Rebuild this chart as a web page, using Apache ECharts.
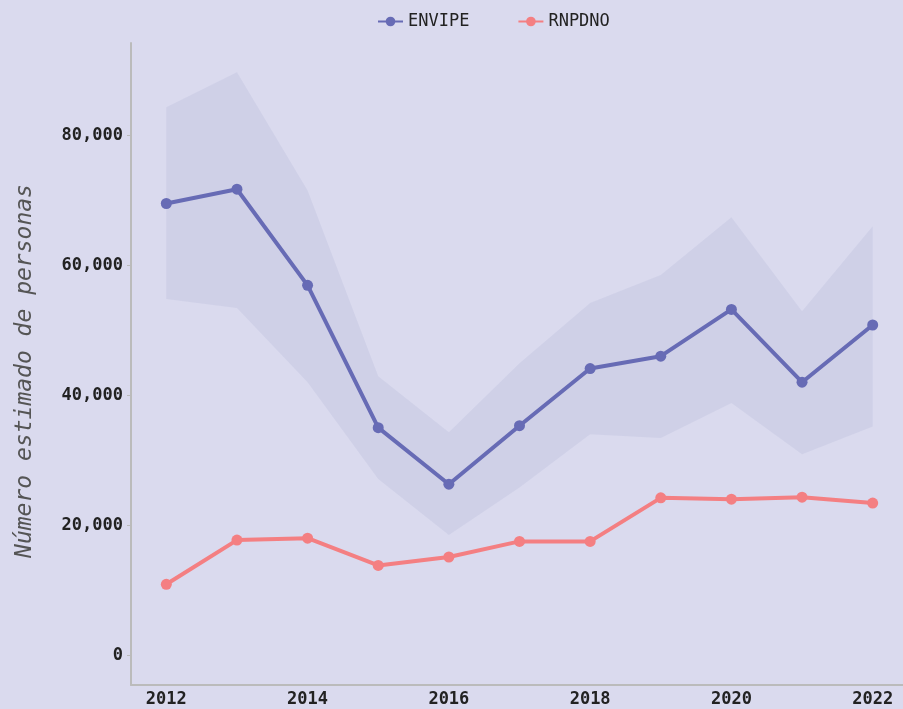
<!DOCTYPE html>
<html>
<head>
<meta charset="utf-8">
<script src="https://cdn.jsdelivr.net/npm/echarts@6/dist/echarts.min.js"></script>
<style>
  html, body { margin: 0; padding: 0; background: #dadaee; overflow: hidden; }
  #chart { width: 908px; height: 709px; }
</style>
</head>
<body>
<div id="chart"></div>
<script>
const years = ['2012', '2013', '2014', '2015', '2016', '2017', '2018', '2019', '2020', '2021', '2022']
const envipe = [69500, 71700, 56900, 35000, 26300, 35300, 44100, 46000, 53200, 42000, 50800]
const envipeUpper = [84300, 89700, 71500, 42900, 34300, 44900, 54200, 58500, 67400, 52900, 66000]
const envipeLower = [54800, 53400, 42000, 27100, 18500, 25800, 34000, 33400, 38800, 30900, 35200]
const rnpdno = [10900, 17700, 18000, 13800, 15100, 17500, 17500, 24200, 24000, 24300, 23400]
const yTicks = [0, 20000, 40000, 60000, 80000]

const mono = 'DejaVu Sans Mono'
const chart = echarts.init(document.getElementById('chart'))

// band = lower + (upper - lower), stacked
const bandWidth = envipeUpper.map((v, i) => v - envipeLower[i])

chart.setOption({
  backgroundColor: '#dadaee',
  animation: false,
  legend: {
    top: 8,
    left: 372,
    itemWidth: 25,
    itemHeight: 12,
    itemGap: 48,
    data: ['ENVIPE', 'RNPDNO'],
    textStyle: { fontFamily: mono, fontSize: 17, color: '#222' }
  },
  grid: { left: 131, right: 0, top: 43, bottom: 24 },
  xAxis: {
    type: 'category',
    data: years,
    boundaryGap: true,
    axisLine: { onZero: false, lineStyle: { color: '#bbbbbb', width: 2 } },
    axisTick: { alignWithLabel: true, interval: 1, length: 4, lineStyle: { color: '#bbbbbb' } },
    axisLabel: { interval: 1, margin: 6, fontFamily: mono, fontWeight: 'bold', fontSize: 17, color: '#222' },
    splitLine: { show: false }
  },
  yAxis: {
    type: 'value',
    min: -4600,
    max: 94200,
    name: 'Número estimado de personas',
    nameLocation: 'middle',
    nameGap: 94,
    nameTextStyle: { fontFamily: mono, fontStyle: 'italic', fontSize: 23, color: '#555', padding: [0, 14, 0, 0] },
    axisLine: { show: true, lineStyle: { color: '#bbbbbb', width: 2 } },
    axisTick: { show: true, customValues: yTicks, length: 4, lineStyle: { color: '#bbbbbb' } },
    axisLabel: {
      customValues: yTicks,
      margin: 8,
      fontFamily: mono,
      fontWeight: 'bold',
      fontSize: 17,
      color: '#222',
      formatter: v => v.toLocaleString('en-US')
    },
    splitLine: { show: false }
  },
  series: [
    {
      name: 'band-lower',
      type: 'line',
      data: envipeLower,
      stack: 'band',
      symbol: 'none',
      lineStyle: { opacity: 0 },
      silent: true
    },
    {
      name: 'band',
      type: 'line',
      data: bandWidth,
      stack: 'band',
      symbol: 'none',
      lineStyle: { opacity: 0 },
      areaStyle: { color: 'rgba(190, 192, 222, 0.55)' },
      silent: true
    },
    {
      name: 'ENVIPE',
      type: 'line',
      data: envipe,
      symbol: 'circle',
      symbolSize: 11,
      color: '#676bb5',
      lineStyle: { width: 4, color: '#676bb5' }
    },
    {
      name: 'RNPDNO',
      type: 'line',
      data: rnpdno,
      symbol: 'circle',
      symbolSize: 11,
      color: '#f47f82',
      lineStyle: { width: 4, color: '#f47f82' }
    }
  ]
})
</script>
</body>
</html>
